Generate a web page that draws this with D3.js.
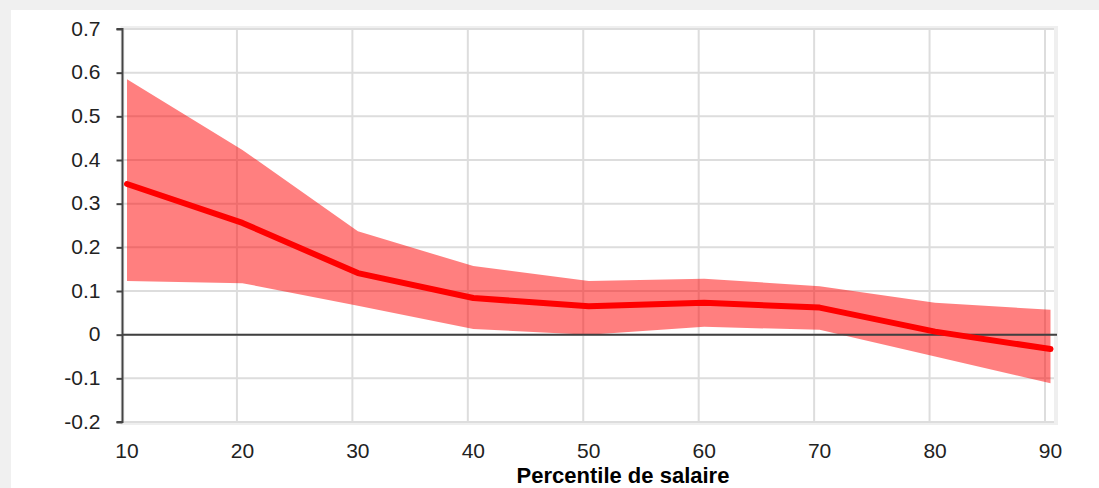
<!DOCTYPE html>
<html>
<head>
<meta charset="utf-8">
<script src="https://cdn.jsdelivr.net/npm/d3@7"></script>
<style>
  body { margin: 0; background: #fff; }
  svg { display: block; }
</style>
</head>
<body>
<svg width="1099" height="488"></svg>
<script>
// data
const percentiles = [10, 20, 30, 40, 50, 60, 70, 80, 90];
const estimate = [0.345, 0.256, 0.141, 0.084, 0.065, 0.073, 0.062, 0.007, -0.033];
const upper = [0.585, 0.423, 0.237, 0.157, 0.123, 0.128, 0.111, 0.073, 0.057];
const lower = [0.123, 0.118, 0.066, 0.013, 0.000, 0.018, 0.011, -0.050, -0.111];
const yTicks = [-0.2, -0.1, 0, 0.1, 0.2, 0.3, 0.4, 0.5, 0.6, 0.7];
const xLabel = "Percentile de salaire";

const svg = d3.select("svg");
const font = "'Liberation Sans', Arial, sans-serif";

// page background strips
svg.append("rect").attr("x", 0).attr("y", 0).attr("width", 1099).attr("height", 10).attr("fill", "#f0f0f0");
svg.append("rect").attr("x", 0).attr("y", 0).attr("width", 11).attr("height", 488).attr("fill", "#f0f0f0");

const plotLeft = 122.5, plotRight = 1056, plotTop = 29, plotBottom = 422;
const gridShift = -5.5; // gridlines sit slightly left of the data points

const x = d3.scaleLinear().domain([10, 90]).range([127, 1050.5]);
const y = d3.scaleLinear().domain([-0.2, 0.7]).range([plotBottom, plotTop]);

// frame
svg.append("rect")
  .attr("x", plotLeft).attr("y", plotTop - 1)
  .attr("width", plotRight - plotLeft).attr("height", plotBottom - plotTop + 2)
  .attr("fill", "none").attr("stroke", "#efefef").attr("stroke-width", 4);

// horizontal grid
svg.append("g").selectAll("line")
  .data(yTicks)
  .enter().append("line")
  .attr("x1", plotLeft).attr("x2", plotRight - 2)
  .attr("y1", d => y(d)).attr("y2", d => y(d))
  .attr("stroke", "#dddddd").attr("stroke-width", 2);

// vertical grid
svg.append("g").selectAll("line")
  .data(percentiles.slice(1))
  .enter().append("line")
  .attr("x1", d => x(d) + gridShift).attr("x2", d => x(d) + gridShift)
  .attr("y1", plotTop).attr("y2", plotBottom)
  .attr("stroke", "#dddddd").attr("stroke-width", 2);

// confidence band
const rows = percentiles.map((p, i) => ({ p: p, lo: lower[i], hi: upper[i], est: estimate[i] }));
const area = d3.area()
  .x(d => x(d.p))
  .y0(d => y(d.lo))
  .y1(d => y(d.hi));
svg.append("path")
  .datum(rows)
  .attr("d", area)
  .attr("fill", "rgba(255,0,0,0.5)");

// zero line
svg.append("line")
  .attr("x1", plotLeft).attr("x2", plotRight + 1)
  .attr("y1", y(0)).attr("y2", y(0))
  .attr("stroke", "#404040").attr("stroke-width", 2);

// estimate line
const line = d3.line().x(d => x(d.p)).y(d => y(d.est));
svg.append("path")
  .datum(rows)
  .attr("d", line)
  .attr("fill", "none")
  .attr("stroke", "#ff0000")
  .attr("stroke-width", 6)
  .attr("stroke-linecap", "round")
  .attr("stroke-linejoin", "round");

// y axis (plain hyphen for negatives, like the original)
const yAxis = svg.append("g")
  .attr("transform", "translate(" + plotLeft + ",0)")
  .call(d3.axisLeft(y).tickValues(yTicks).tickSize(6).tickPadding(16)
    .tickFormat(d => Math.abs(d) < 1e-9 ? "0" : d.toFixed(1)));
yAxis.select(".domain").attr("stroke", "#444").attr("stroke-width", 2)
  .attr("d", "M-6," + y(0.7) + "H0V" + y(-0.2) + "H-6");
yAxis.selectAll(".tick line").attr("stroke", "#444").attr("stroke-width", 2);
yAxis.selectAll(".tick text")
  .attr("fill", "#222").attr("dy", "0.3em")
  .style("font-family", font).style("font-size", "21px");

// x tick labels
svg.append("g").selectAll("text")
  .data(percentiles)
  .enter().append("text")
  .attr("x", d => x(d))
  .attr("y", 458)
  .attr("text-anchor", "middle")
  .attr("fill", "#222")
  .style("font-family", font).style("font-size", "21px")
  .text(d => d);

// x title
svg.append("text")
  .attr("x", 623).attr("y", 483)
  .attr("text-anchor", "middle")
  .attr("fill", "#000")
  .style("font-family", font).style("font-size", "22px").style("font-weight", "bold")
  .text(xLabel);
</script>
</body>
</html>
